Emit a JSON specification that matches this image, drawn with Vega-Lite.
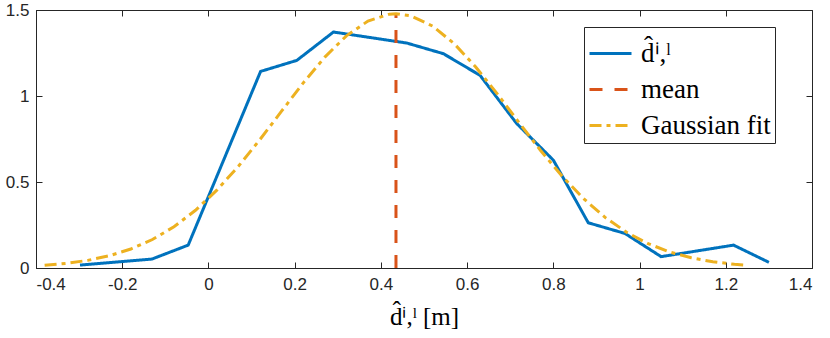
{
  "$schema": "https://vega.github.io/schema/vega-lite/v6.json",
  "autosize": {"type": "none"},
  "padding": {"left": 36, "top": 10, "right": 18, "bottom": 70},
  "width": 776,
  "height": 258,
  "background": "white",
  "config": {
    "view": {"stroke": "#262626", "strokeWidth": 1},
    "axis": {
      "domainColor": "#262626",
      "tickColor": "#262626",
      "labelColor": "#262626",
      "labelFont": "Liberation Sans",
      "labelFontSize": 17,
      "grid": false,
      "tickSize": -6
    }
  },
  "data": {
    "values": [
      {"s": "d̂ⁱ,ˡ", "x": -0.298, "y": 0.017},
      {"s": "d̂ⁱ,ˡ", "x": -0.131, "y": 0.052},
      {"s": "d̂ⁱ,ˡ", "x": -0.047, "y": 0.133},
      {"s": "d̂ⁱ,ˡ", "x": 0.121, "y": 1.143},
      {"s": "d̂ⁱ,ˡ", "x": 0.205, "y": 1.207},
      {"s": "d̂ⁱ,ˡ", "x": 0.29, "y": 1.372},
      {"s": "d̂ⁱ,ˡ", "x": 0.46, "y": 1.308},
      {"s": "d̂ⁱ,ˡ", "x": 0.545, "y": 1.246},
      {"s": "d̂ⁱ,ˡ", "x": 0.63, "y": 1.12},
      {"s": "d̂ⁱ,ˡ", "x": 0.715, "y": 0.84},
      {"s": "d̂ⁱ,ˡ", "x": 0.8, "y": 0.627},
      {"s": "d̂ⁱ,ˡ", "x": 0.881, "y": 0.263},
      {"s": "d̂ⁱ,ˡ", "x": 0.966, "y": 0.201},
      {"s": "d̂ⁱ,ˡ", "x": 1.05, "y": 0.066},
      {"s": "d̂ⁱ,ˡ", "x": 1.218, "y": 0.133},
      {"s": "d̂ⁱ,ˡ", "x": 1.3, "y": 0.033},
      {"s": "mean", "x": 0.435, "y": 0},
      {"s": "mean", "x": 0.435, "y": 1.478},
      {"s": "Gaussian fit", "x": -0.38, "y": 0.0155},
      {"s": "Gaussian fit", "x": -0.33, "y": 0.0267},
      {"s": "Gaussian fit", "x": -0.28, "y": 0.0444},
      {"s": "Gaussian fit", "x": -0.23, "y": 0.0712},
      {"s": "Gaussian fit", "x": -0.18, "y": 0.1104},
      {"s": "Gaussian fit", "x": -0.13, "y": 0.1656},
      {"s": "Gaussian fit", "x": -0.08, "y": 0.2397},
      {"s": "Gaussian fit", "x": -0.03, "y": 0.3355},
      {"s": "Gaussian fit", "x": 0.02, "y": 0.4537},
      {"s": "Gaussian fit", "x": 0.07, "y": 0.5927},
      {"s": "Gaussian fit", "x": 0.12, "y": 0.7485},
      {"s": "Gaussian fit", "x": 0.17, "y": 0.913},
      {"s": "Gaussian fit", "x": 0.22, "y": 1.0764},
      {"s": "Gaussian fit", "x": 0.27, "y": 1.2263},
      {"s": "Gaussian fit", "x": 0.32, "y": 1.3499},
      {"s": "Gaussian fit", "x": 0.37, "y": 1.4357},
      {"s": "Gaussian fit", "x": 0.42, "y": 1.4757},
      {"s": "Gaussian fit", "x": 0.435, "y": 1.478},
      {"s": "Gaussian fit", "x": 0.47, "y": 1.4656},
      {"s": "Gaussian fit", "x": 0.52, "y": 1.4066},
      {"s": "Gaussian fit", "x": 0.57, "y": 1.3043},
      {"s": "Gaussian fit", "x": 0.62, "y": 1.1688},
      {"s": "Gaussian fit", "x": 0.67, "y": 1.012},
      {"s": "Gaussian fit", "x": 0.72, "y": 0.8467},
      {"s": "Gaussian fit", "x": 0.77, "y": 0.6846},
      {"s": "Gaussian fit", "x": 0.82, "y": 0.5348},
      {"s": "Gaussian fit", "x": 0.87, "y": 0.4036},
      {"s": "Gaussian fit", "x": 0.92, "y": 0.2944},
      {"s": "Gaussian fit", "x": 0.97, "y": 0.2075},
      {"s": "Gaussian fit", "x": 1.02, "y": 0.1413},
      {"s": "Gaussian fit", "x": 1.07, "y": 0.093},
      {"s": "Gaussian fit", "x": 1.12, "y": 0.0592},
      {"s": "Gaussian fit", "x": 1.17, "y": 0.0363},
      {"s": "Gaussian fit", "x": 1.22, "y": 0.0216},
      {"s": "Gaussian fit", "x": 1.25, "y": 0.0155}
    ]
  },
  "layer": [
    {
      "transform": [{"filter": "datum.s === 'mean'"}],
      "mark": {"type": "line", "opacity": 0},
      "encoding": {
        "x": {"field": "x", "type": "quantitative", "scale": {"domain": [-0.4, 1.4], "nice": false, "zero": false},
          "axis": {"orient": "top", "labels": false, "title": null, "domain": false, "tickSize": -6, "ticks": true, "values": [-0.4, -0.2, 0, 0.2, 0.4, 0.6, 0.8, 1, 1.2, 1.4]}},
        "y": {"field": "y", "type": "quantitative", "scale": {"domain": [0, 1.5], "nice": false},
          "axis": {"orient": "right", "labels": false, "title": null, "domain": false, "tickSize": -6, "ticks": true, "values": [0, 0.5, 1, 1.5]}}
      }
    },
    {
      "mark": {"type": "line", "strokeWidth": 3},
      "encoding": {
        "x": {
          "field": "x", "type": "quantitative",
          "scale": {"domain": [-0.4, 1.4], "nice": false, "zero": false},
          "axis": {
            "orient": "bottom",
            "values": [-0.4, -0.2, 0, 0.2, 0.4, 0.6, 0.8, 1, 1.2, 1.4],
            "labelExpr": "'' + datum.value",
            "labelPadding": 14,
            "title": "d̂ⁱ,ˡ  [m]",
            "titleFont": "Liberation Serif",
            "titleFontSize": 25,
            "titleFontWeight": "normal",
            "titleColor": "#000000",
            "titlePadding": 12
          }
        },
        "y": {
          "field": "y", "type": "quantitative",
          "scale": {"domain": [0, 1.5], "nice": false},
          "axis": {"orient": "left", "values": [0, 0.5, 1, 1.5], "labelExpr": "'' + datum.value", "labelPadding": 13, "title": null}
        },
        "color": {
          "field": "s", "type": "nominal",
          "scale": {"domain": ["d̂ⁱ,ˡ", "mean", "Gaussian fit"], "range": ["#0072BD", "#D95319", "#EDB120"]},
          "legend": {
            "title": null,
            "orient": "none",
            "legendX": 548,
            "legendY": 17,
            "fillColor": "white",
            "strokeColor": "#262626",
            "padding": 4,
            "cornerRadius": 0,
            "symbolType": "stroke",
            "symbolSize": 1764,
            "symbolStrokeWidth": 3,
            "labelFont": "Liberation Serif",
            "labelFontSize": 27,
            "labelColor": "#000000",
            "labelOffset": 8,
            "labelLimit": 300,
            "rowPadding": 0
          }
        },
        "strokeDash": {
          "field": "s", "type": "nominal",
          "scale": {"domain": ["d̂ⁱ,ˡ", "mean", "Gaussian fit"], "range": [[1, 0], [13, 12], [12, 5, 4, 5]]},
          "legend": null
        }
      }
    }
  ],
  "resolve": {"axis": {"x": "independent", "y": "independent"}}
}
